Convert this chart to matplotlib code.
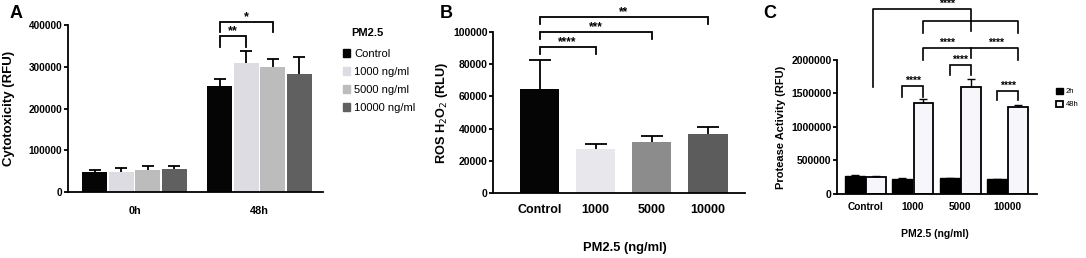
"""Cytotoxicity, ROS and protease activity after PM2.5 exposure"""

import matplotlib
matplotlib.use("Agg")
import matplotlib.pyplot as plt
from matplotlib.patches import Patch
import numpy as np

plt.rcParams["font.family"] = ["Liberation Sans", "DejaVu Sans"]

# panel A data
time_points = ["0h", "48h"]
pm_doses = ["Control", "1000 ng/ml", "5000 ng/ml", "10000 ng/ml"]
cyto_0h = [48600, 47000, 52600, 55800]
cyto_0h_err = [3000, 9600, 8700, 5500]
cyto_48h = [254000, 308000, 300000, 283600]
cyto_48h_err = [16000, 30000, 18000, 39000]
dose_colors_a = ["#050505", "#dcdce2", "#bcbcbc", "#606060"]

# panel B data
ros_doses = ["Control", "1000", "5000", "10000"]
ros_mean = [64600, 27500, 31700, 36400]
ros_err = [18200, 3100, 3900, 4600]
dose_colors_b = ["#050505", "#e8e8ec", "#8c8c8c", "#5c5c5c"]

# panel C data
protease_doses = ["Control", "1000", "5000", "10000"]
protease_2h = [263000, 227000, 234000, 219000]
protease_2h_err = [14000, 9000, 8000, 8000]
protease_48h = [260000, 1363000, 1592000, 1293000]
protease_48h_err = [12000, 48000, 119000, 30000]

SPINE_W = 1.3


def style_axes(ax):
    for side in ["top", "right"]:
        ax.spines[side].set_visible(False)
    for side in ["left", "bottom"]:
        ax.spines[side].set_linewidth(SPINE_W)
    ax.tick_params(axis="x", length=0)
    ax.tick_params(axis="y", length=3, width=SPINE_W, pad=1)


def up_errorbar(ax, x, y, err, capsize, lw=1.3):
    """GraphPad style: only the upper half of the error bar"""
    _, caps, _ = ax.errorbar(x, y, yerr=[np.zeros(len(err)), np.array(err)],
                             fmt="none", ecolor="black", elinewidth=lw,
                             capsize=capsize, capthick=lw)
    caps[0].set_visible(False)


def stars(ax, x, y, text, fs):
    ax.annotate(text, xy=(x, y), xytext=(0, 1.5), textcoords="offset points",
                ha="center", va="baseline", fontsize=fs, fontweight="bold",
                annotation_clip=False)


def bracket(ax, x1, x2, y, leg, text, fs=8.5, lw=1.3):
    ax.plot([x1, x1, x2, x2], [y - leg, y, y, y - leg], color="black", lw=lw,
            clip_on=False, solid_joinstyle="miter")
    stars(ax, (x1 + x2) / 2, y, text, fs)


fig = plt.figure(figsize=(10.86, 2.58), dpi=100)

# ---------------- A ----------------
ax_a = fig.add_axes([0.0626, 0.2558, 0.2348, 0.6473])
style_axes(ax_a)
group_x = np.arange(len(time_points))
offsets = (np.arange(4) - 1.5) * 0.212
means_by_dose = list(zip(cyto_0h, cyto_48h))
errs_by_dose = list(zip(cyto_0h_err, cyto_48h_err))
for i in range(4):
    xs = group_x + offsets[i]
    ax_a.bar(xs, means_by_dose[i], width=0.2, color=dose_colors_a[i],
             label=pm_doses[i])
    up_errorbar(ax_a, xs, means_by_dose[i], errs_by_dose[i], 4.5)
ax_a.set_xlim(-0.532, 1.508)
ax_a.set_ylim(0, 400000)
ax_a.set_yticks([0, 100000, 200000, 300000, 400000])
ax_a.set_yticklabels(["0", "100000", "200000", "300000", "400000"],
                     fontsize=7.2, fontweight="bold")
ax_a.set_xticks(group_x)
ax_a.set_xticklabels(time_points, fontsize=7.8, fontweight="bold")
ax_a.tick_params(axis="x", pad=10)
ax_a.set_ylabel("Cytotoxicity (RFU)", fontsize=9.5, fontweight="bold")
ax_a.yaxis.set_label_coords(-0.208, 0.5)
bracket(ax_a, 1 + offsets[0], 1 + offsets[1], 373600, 26000, "**", fs=9)
bracket(ax_a, 1 + offsets[0], 1 + offsets[2], 407000, 24000, "*", fs=9)
handles = [Patch(color=c, label=l) for c, l in zip(dose_colors_a, pm_doses)]
ax_a.legend(handles=handles, loc="upper left", bbox_to_anchor=(1.078, 0.857),
            frameon=False, fontsize=8, handlelength=0.65, handleheight=0.65,
            handletextpad=0.35, labelspacing=0.72, borderaxespad=0,
            borderpad=0)
fig.text(351 / 1086, 1 - 33 / 258, "PM2.5", ha="left", va="center",
         fontsize=8, fontweight="bold")

# ---------------- B ----------------
ax_b = fig.add_axes([0.4540, 0.2519, 0.2320, 0.6240])
style_axes(ax_b)
xb = np.arange(len(ros_doses))
ax_b.bar(xb, ros_mean, width=0.7, color=dose_colors_b)
up_errorbar(ax_b, xb, ros_mean, ros_err, 8)
ax_b.set_xlim(-0.83, 3.66)
ax_b.set_ylim(0, 100000)
ax_b.set_yticks(np.arange(0, 100001, 20000))
ax_b.set_yticklabels([str(v) for v in range(0, 100001, 20000)],
                     fontsize=7.5, fontweight="bold")
ax_b.set_xticks(xb)
ax_b.set_xticklabels(ros_doses, fontsize=9, fontweight="bold")
ax_b.tick_params(axis="x", pad=8)
ax_b.set_ylabel("ROS H$_2$O$_2$ (RLU)", fontsize=9.2, fontweight="bold")
ax_b.yaxis.set_label_coords(-0.17, 0.5)
bracket(ax_b, 0, 1, 90700, 4500, "****")
bracket(ax_b, 0, 2, 100000, 4500, "***")
bracket(ax_b, 0, 3, 109300, 4500, "**")
fig.text(625 / 1086, 1 - 248 / 258, "PM2.5 (ng/ml)", ha="center", va="center",
         fontsize=9.3, fontweight="bold")

# ---------------- C ----------------
ax_c = fig.add_axes([0.7707, 0.2481, 0.1842, 0.5194])
style_axes(ax_c)
xc = np.arange(len(protease_doses))
bw = 0.42
ax_c.bar(xc - 0.225, protease_2h, width=bw, color="black", edgecolor="black",
         linewidth=1.0, label="2h")
ax_c.bar(xc + 0.225, protease_48h, width=bw, color="#f6f6fb", edgecolor="black",
         linewidth=1.3, label="48h")
up_errorbar(ax_c, xc - 0.225, protease_2h, protease_2h_err, 3, lw=1.0)
up_errorbar(ax_c, xc + 0.225, protease_48h, protease_48h_err, 3, lw=1.0)
ax_c.set_xlim(-0.60, 3.62)
ax_c.set_ylim(0, 2000000)
ax_c.set_yticks(np.arange(0, 2000001, 500000))
ax_c.set_yticklabels([str(v) for v in range(0, 2000001, 500000)],
                     fontsize=7.5, fontweight="bold")
ax_c.set_xticks(xc)
ax_c.set_xticklabels(protease_doses, fontsize=7.3, fontweight="bold")
ax_c.tick_params(axis="x", pad=6)
ax_c.set_ylabel("Protease Activity (RFU)", fontsize=8, fontweight="bold")
ax_c.yaxis.set_label_coords(-0.255, 0.5)
# pairwise 2h vs 48h
c_fs = 7.5
bracket(ax_c, 1 - 0.225, 1 + 0.225, 1612000, 164000, "****", fs=c_fs, lw=1.2)
bracket(ax_c, 2 - 0.225, 2 + 0.225, 1925000, 149000, "****", fs=c_fs, lw=1.2)
bracket(ax_c, 3 - 0.225, 3 + 0.225, 1537000, 134000, "****", fs=c_fs, lw=1.2)
# 48h comparisons between doses
ax_c.plot([1.225, 1.225, 3.225, 3.225], [2.0e6, 2.18e6, 2.18e6, 2.0e6],
          color="black", lw=1.2, clip_on=False)
ax_c.plot([2.225, 2.225], [2.18e6, 2.03e6], color="black", lw=1.2, clip_on=False)
stars(ax_c, 1.725, 2.18e6, "****", c_fs)
stars(ax_c, 2.75, 2.18e6, "****", c_fs)
ax_c.plot([1.225, 1.225, 3.225, 3.225], [2.40e6, 2.58e6, 2.58e6, 2.40e6],
          color="black", lw=1.2, clip_on=False)
ax_c.plot([2.225, 2.225], [2.58e6, 2.43e6], color="black", lw=1.2, clip_on=False)
ax_c.plot([0.16, 0.16, 2.225, 2.225], [1.597e6, 2.76e6, 2.76e6, 2.58e6],
          color="black", lw=1.2, clip_on=False)
stars(ax_c, 1.72, 2.76e6, "****", c_fs)
ax_c.legend(loc="upper left", bbox_to_anchor=(1.08, 0.817), frameon=False,
            fontsize=5.5, handlelength=0.85, handleheight=0.85, handletextpad=0.4,
            labelspacing=0.7, borderaxespad=0)
fig.text(935 / 1086, 1 - 234 / 258, "PM2.5 (ng/ml)", ha="center", va="center",
         fontsize=7.5, fontweight="bold")

# panel letters
for x, letter in [(10, "A"), (440, "B"), (763, "C")]:
    fig.text(x / 1086, 1 - 14 / 258, letter, ha="left", va="center",
             fontsize=13, fontweight="bold")

fig.savefig("out.png", dpi=100)
